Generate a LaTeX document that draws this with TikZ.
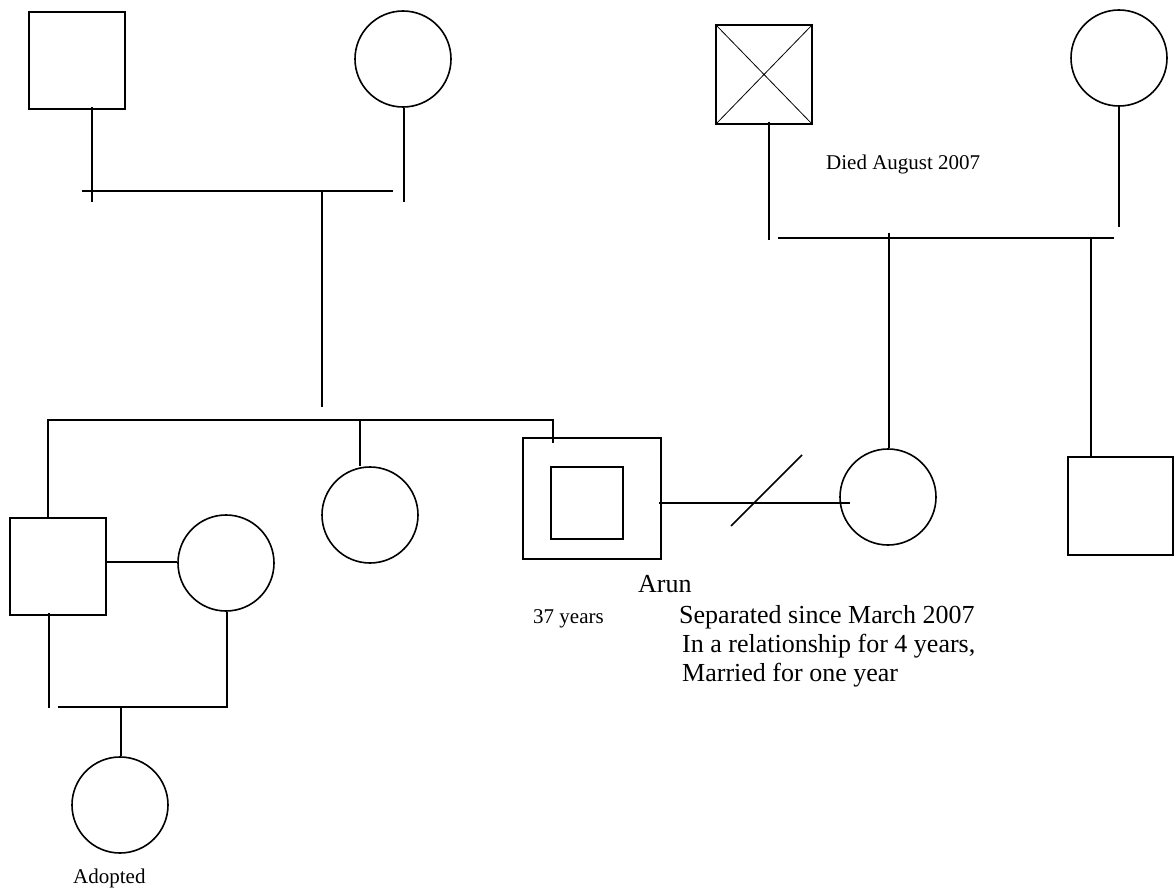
\documentclass[tikz,border=0pt]{standalone}
\usepackage{fontspec}
\setmainfont{Liberation Serif}
\begin{document}
\begin{tikzpicture}[x=1pt,y=-1pt,
  male/.style={draw=black,line width=1.7pt,rectangle,inner sep=0pt,minimum width=96pt,minimum height=97pt},
  female/.style={draw=black,line width=1.6pt,circle,inner sep=0pt,minimum size=96pt},
  link/.style={line width=1.5pt,black},
  big/.style={font=\fontsize{26}{30}\selectfont,inner sep=0pt,anchor=base west},
  small/.style={font=\fontsize{21}{25}\selectfont,inner sep=0pt,anchor=base west}]
\useasboundingbox[fill=white] (0,0) rectangle (1175,888);
% generation 1
\node[male] (gf) at (77,60.5) {};
\node[female] (gm) at (403,59) {};
\node[male,minimum width=96pt,minimum height=99pt] (dgf) at (764,74.5) {};
\draw[line width=0.8pt] (dgf.north west) -- (dgf.south east) (dgf.north east) -- (dgf.south west);
\node[female] (dgm) at (1119,58) {};
% generation 2
\node[male] (son) at (58,566.5) {};
\node[female] (sonw) at (226,563) {};
\node[female] (sis) at (370,515) {};
\node[male,minimum width=138pt,minimum height=121pt] (arun) at (592,498.5) {};
\node[male,minimum width=72pt,minimum height=72pt] (aruni) at (587,503) {};
\node[female] (wife) at (888,497) {};
\node[male,minimum width=105pt,minimum height=98pt] (bil) at (1120.5,506) {};
% generation 3
\node[female] (adopt) at (120,805) {};
% junction coordinates
\coordinate (g1a) at (92,202);
\coordinate (g1b) at (404,202);
\coordinate (m1l) at (82,191);
\coordinate (m1r) at (393,191);
\coordinate (d1t) at (322,191);
\coordinate (d1b) at (322,407);
\coordinate (sl) at (48,420);
\coordinate (sr) at (553,420);
\coordinate (sm) at (360,420);
\coordinate (g2a) at (769,240);
\coordinate (g2b) at (1119,227);
\coordinate (m2l) at (778,238);
\coordinate (m2r) at (1114,238);
\coordinate (w2t) at (889,233);
\coordinate (b2t) at (1091,238);
\coordinate (ml) at (659,503);
\coordinate (mr) at (850,503);
\coordinate (s1) at (731,526);
\coordinate (s2) at (802,455);
\coordinate (c3a) at (49,708);
\coordinate (c3l) at (58,707);
\coordinate (c3r) at (227,707);
\coordinate (c3m) at (121,707);
\coordinate (mw) at (106,562);
% generation 1 links
\draw[link] (92,107) -- (g1a);
\draw[link] (gm.south -| g1b) -- (g1b);
\draw[link] (m1l) -- (m1r);
\draw[link] (d1t) -- (d1b);
\draw[link] (769,122) -- (g2a);
\draw[link] (dgm.south) -- (g2b);
\draw[link] (m2l) -- (m2r);
% sibship
\draw[link] (son.north -| sl) -- (sl) -- (sr) -- (553,443);
\draw[link] (sm) -- (sis.north -| sm);
\draw[link] (w2t) -- (wife.north -| w2t);
\draw[link] (b2t) -- (bil.north -| b2t);
% Arun's separated marriage
\draw[link] (ml) -- (mr);
\draw[link] (s1) -- (s2);
% son's family
\draw[link] (mw) -- (sonw.west |- mw);
\draw[link] (49,613) -- (c3a);
\draw[link] (c3l) -- (c3r) -- (sonw.south -| c3r);
\draw[link] (c3m) -- (adopt.north -| c3m);
% texts
\node[small] (died) at (826,169) {Died August 2007};
\node[big] (name) at (638,592) {Arun};
\node[small] (age) at (533,623) {37 years};
\node[big] (t1) at (679,623) {Separated since March 2007};
\node[big] (t2) at (682,652) {In a relationship for 4 years,};
\node[big] (t3) at (682,681) {Married for one year};
\node[small] (adtxt) at (73,883) {Adopted};
\end{tikzpicture}
\end{document}
